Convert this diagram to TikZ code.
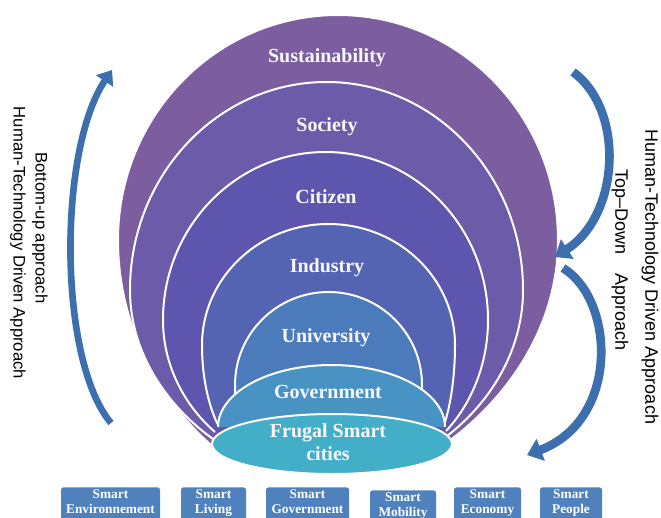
\documentclass[tikz,border=0pt]{standalone}
\usepackage{fontspec}
\setmainfont{Liberation Serif}
\newfontfamily\sansf{Liberation Sans}
\usetikzlibrary{arrows.meta}
\definecolor{cLa}{HTML}{7B5DA0}
\definecolor{cLb}{HTML}{6C5BA8}
\definecolor{cLc}{HTML}{5E56AE}
\definecolor{cLd}{HTML}{5563B3}
\definecolor{cLe}{HTML}{4C7BBB}
\definecolor{cLf}{HTML}{4893C3}
\definecolor{cLg}{HTML}{43AEC7}
\definecolor{boxc}{HTML}{4F81BD}
\definecolor{arrc}{HTML}{3D6FAE}
\definecolor{txtc}{HTML}{FAF8FF}
% #1 Lx  #2 Rx  #3 top  #4 widest y  #5 BLx  #6 BLy  #7 BRx  #8 BRy  #9 colour
\newcommand{\archlayer}[9]{%
  \fill[#9] (#5,#6) .. controls ({#1+0.5*(#5-#1)},{#4+0.8*(#6-#4)}) and (#1,{#4+0.45*(#6-#4)}) .. (#1,#4)
    .. controls (#1,{#4-0.5523*(#4-#3)}) and ({(#1+#2)/2-0.5523*(#2-#1)/2},#3) .. ({(#1+#2)/2},#3)
    .. controls ({(#1+#2)/2+0.5523*(#2-#1)/2},#3) and (#2,{#4-0.5523*(#4-#3)}) .. (#2,#4)
    .. controls (#2,{#4+0.45*(#8-#4)}) and ({#2+0.5*(#7-#2)},{#4+0.8*(#8-#4)}) .. (#7,#8) -- cycle;
  \draw[sepline] (#5,#6) .. controls ({#1+0.5*(#5-#1)},{#4+0.8*(#6-#4)}) and (#1,{#4+0.45*(#6-#4)}) .. (#1,#4)
    .. controls (#1,{#4-0.5523*(#4-#3)}) and ({(#1+#2)/2-0.5523*(#2-#1)/2},#3) .. ({(#1+#2)/2},#3)
    .. controls ({(#1+#2)/2+0.5523*(#2-#1)/2},#3) and (#2,{#4-0.5523*(#4-#3)}) .. (#2,#4)
    .. controls (#2,{#4+0.45*(#8-#4)}) and ({#2+0.5*(#7-#2)},{#4+0.8*(#8-#4)}) .. (#7,#8);
}
\begin{document}
\begin{tikzpicture}[x=0.75pt,y=-0.75pt,
  sepline/.style={draw=white,line width=1.5pt},
  lab/.style={text=txtc,font=\fontsize{15}{17}\selectfont\bfseries,align=center,inner sep=0pt},
  smartbox/.style={fill=boxc,rounded corners=2pt,text=white,font=\fontsize{10}{11}\selectfont\bfseries,
     align=center,anchor=north,inner xsep=1pt,inner ysep=2pt,text depth=12pt},
  sidetxt/.style={font=\sansf\fontsize{12.5}{14}\selectfont,rotate=-90,inner sep=0pt},
  sidetxtr/.style={font=\sansf\fontsize{13.5}{15}\selectfont,rotate=-90,inner sep=0pt},
  bentarrow/.style={draw=arrc,line width=5pt,-{Triangle[width=15pt,length=10pt]}},
  bentarrowr/.style={draw=arrc,line width=6.5pt,-{Triangle[width=17pt,length=11pt]}}]
\useasboundingbox (0,0) rectangle (661,518);
\clip (0,0) rectangle (661,518);

% nested layers
\archlayer{118}{558}{15}{240}{211}{445}{449}{441}{cLa}
\archlayer{130}{523}{82}{290}{213}{439}{447}{436}{cLb}
\archlayer{163}{488}{152}{320}{215}{432}{446}{431}{cLc}
\archlayer{202}{455}{224}{345}{218}{425}{444}{425}{cLd}
\archlayer{235}{422}{292}{385}{238}{425}{420}{425}{cLe}
% government
\fill[cLf] (218,427) .. controls (218,{427-0.5523*62}) and ({331.5-0.5523*113.5},365) .. (331.5,365)
  .. controls ({331.5+0.5523*113.5},365) and (445,{427-0.5523*62}) .. (445,427) -- cycle;
\draw[sepline] (218,427) .. controls (218,{427-0.5523*62}) and ({331.5-0.5523*113.5},365) .. (331.5,365)
  .. controls ({331.5+0.5523*113.5},365) and (445,{427-0.5523*62}) .. (445,427);
% frugal smart cities
\draw[sepline,fill=cLg] (332,444) ellipse [x radius=120, y radius=30];

\node[lab] (sust) at (327,58) {Sustainability};
\node[lab] (soc) at (327,127) {Society};
\node[lab] (cit) at (326,197) {Citizen};
\node[lab] (ind) at (327,268) {Industry};
\node[lab] (uni) at (326,338) {University};
\node[lab] (gov) at (328,392) {Government};
\node[lab] (fsc) at (328,442) {Frugal Smart\\cities};

% bottom boxes
\node[smartbox,minimum width=74.25pt] (b1) at (110.5,487) {Smart\\Environnement};
\node[smartbox,minimum width=48.75pt] (b2) at (213.5,487) {Smart\\Living};
\node[smartbox,minimum width=62.25pt] (b3) at (307.5,487) {Smart\\Government};
\node[smartbox,minimum width=49.5pt] (b4) at (403,490) {Smart\\Mobility};
\node[smartbox,minimum width=50.25pt] (b5) at (487.5,487) {Smart\\Economy};
\node[smartbox,minimum width=46.5pt] (b6) at (571,487) {Smart\\People};

% side texts
\node[sidetxt] (bu) at (40,228) {Bottom-up approach};
\node[sidetxt] (hl) at (18,243) {Human-Technology Driven Approach};
\node[sidetxtr] (td) at (620,260) {Top–Down\hspace{1.1em}Approach};
\node[sidetxtr] (hr) at (650,277) {Human-Technology Driven Approach};

% curved arrows
\coordinate (la0) at (111,423);
\coordinate (la1) at (112,70);
\coordinate (ra0) at (573,72);
\coordinate (ra1) at (555,257);
\coordinate (rb0) at (563,268);
\coordinate (rb1) at (527,455);
\draw[bentarrow] (la0) .. controls (58,360) and (58,150) .. (la1);
\draw[bentarrowr] (ra0) .. controls (625,110) and (620,215) .. (ra1);
\draw[bentarrowr] (rb0) .. controls (615,300) and (620,420) .. (rb1);
\end{tikzpicture}
\end{document}
